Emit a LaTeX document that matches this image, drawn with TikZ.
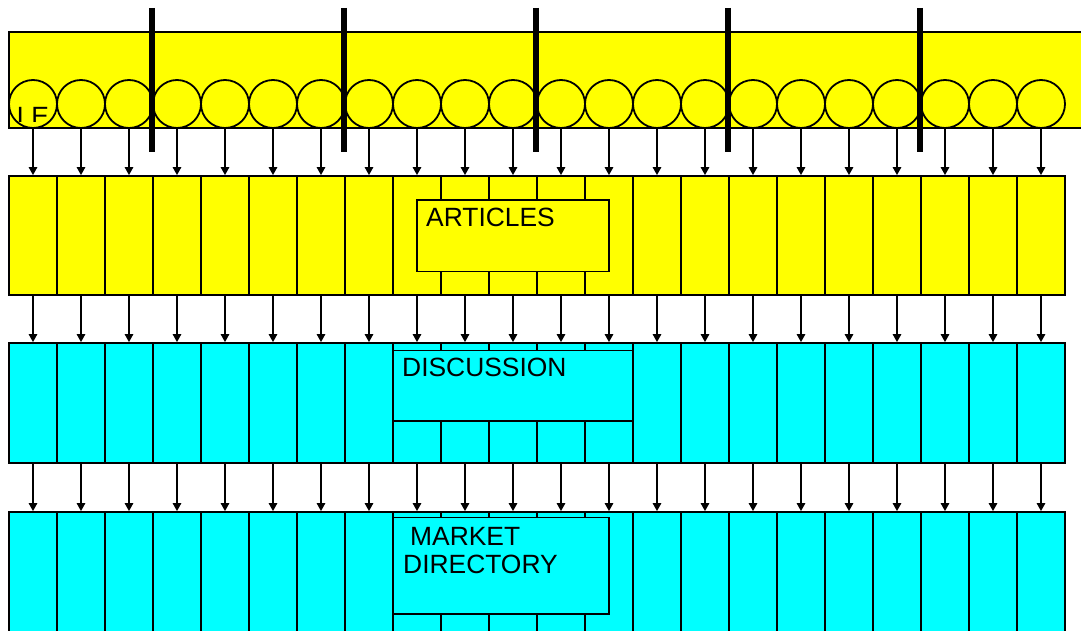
\documentclass[tikz,border=0pt]{standalone}
\usepackage{fontspec}
\setmainfont{Liberation Sans}
\usetikzlibrary{arrows.meta}
\definecolor{lemon}{RGB}{255,255,0}
\definecolor{aqua}{RGB}{0,255,255}
\begin{document}
\begin{tikzpicture}[x=1pt,y=-1pt,
  outline/.style={draw=black, line width=1.8pt},
  band/.style={outline, fill=lemon, minimum width=1091pt, minimum height=96pt, inner sep=0pt},
  ring/.style={outline, fill=lemon, circle, minimum size=48pt, inner sep=0pt},
  cell/.style={outline, rectangle, minimum width=48pt, inner sep=0pt},
  ycell/.style={cell, fill=lemon},
  ccell/.style={cell, fill=aqua},
  labelbox/.style={outline, rectangle, inner sep=0pt},
  lbl/.style={anchor=base west, inner sep=0pt, align=left,
              font=\fontsize{26.4}{28.5}\selectfont},
  bar/.style={draw=black, line width=6pt},
  arr/.style={draw=black, line width=1.4pt, -{Triangle[length=8pt,width=8.5pt]}}]
\clip (0,0) rectangle (1081,631);
\useasboundingbox (0,0) rectangle (1081,631);

% top band with its row of rings
\node[band] (band) at (554.5,80) {};
\foreach \i in {0,...,21}
  \node[ring] (c\i) at ({33+48*\i},104) {};
\begin{scope}
  \clip (9,32) rectangle (60,122);
  \node[lbl] (le) at (16.6,126) {LE};
\end{scope}

% thick vertical markers
\foreach \x in {152,344,536,728,920}
  \draw[bar] (\x,8) -- (\x,152);

% three rows of cells
\foreach \i in {0,...,21} {
  \node[ycell, minimum height=119pt] (a\i) at ({33+48*\i},235.5) {};
  \node[ccell, minimum height=120pt] (b\i) at ({33+48*\i},403) {};
  \node[ccell, minimum height=148pt] (d\i) at ({33+48*\i},586) {};
}

% downward connectors
\foreach \i in {0,...,21} {
  \draw[arr] (c\i) -- (a\i);
  \draw[arr] (a\i) -- (b\i);
  \draw[arr] (b\i) -- (d\i);
}

% section boxes
\node[labelbox, fill=lemon, minimum width=192pt, minimum height=71.5pt] (articles) at (513,235.75) {};
\node[lbl] (articlesT) at (426,226) {ARTICLES};

\node[labelbox, fill=aqua, minimum width=240pt, minimum height=70.5pt] (discussion) at (513,385.75) {};
\node[lbl] (discussionT) at (402,376) {DISCUSSION};

\node[labelbox, fill=aqua, minimum width=216pt, minimum height=96.5pt] (market) at (501,565.75) {};
\node[lbl] (marketT) at (403,573.5) {\hspace*{7pt}MARKET\\DIRECTORY};
\end{tikzpicture}
\end{document}
